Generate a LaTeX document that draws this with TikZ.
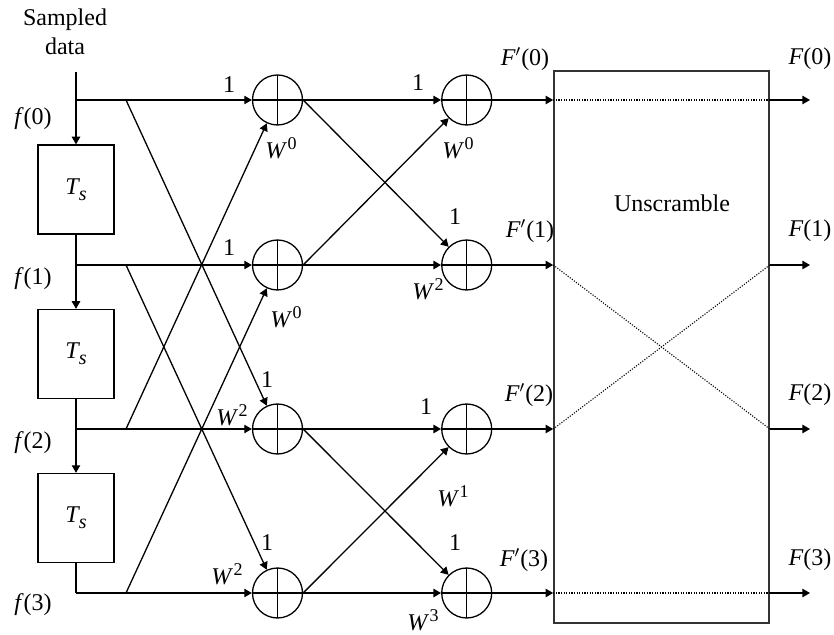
\documentclass[tikz,border=0pt]{standalone}
\usepackage{fontspec}
\setmainfont{Liberation Serif}
\usetikzlibrary{arrows.meta,calc}
\newcommand\Wsup[1]{\textit{W}\kern0.3pt\raisebox{0.85ex}{\fontsize{9}{9}\selectfont #1}}
\newcommand\Tsub{\textit{T}\kern-0.6pt\raisebox{-0.55ex}{\fontsize{10}{10}\selectfont\textit{s}}}
\newcommand\fof[1]{\textit{f}(#1)}
\newcommand\Fp[1]{\textit{F}$'$(#1)}
\newcommand\Fo[1]{\textit{F}(#1)}
\begin{document}
\begin{tikzpicture}[x=0.5pt,y=-0.5pt,
  font=\fontsize{12}{14.4}\selectfont,
  line width=0.65pt,
  arr/.style={-{Triangle[length=3.8pt,width=4.2pt]}},
  adder/.style={circle,draw,minimum size=25pt,inner sep=0pt,
    path picture={\draw (path picture bounding box.north) -- (path picture bounding box.south)
      (path picture bounding box.west) -- (path picture bounding box.east);}},
  delay/.style={draw,minimum width=38pt,minimum height=44.5pt,inner sep=0pt},
  lbl/.style={inner sep=0pt},
  perm/.style={line width=0.55pt,dash pattern=on 0.55pt off 0.75pt}]
\useasboundingbox (0,0) rectangle (834,635);

% input
\node[lbl,align=center] (sd) at (65,32) {Sampled\\data};
\coordinate (in) at (76,72);

% delay boxes
\node[delay] (t1) at (76,189.5) {\Tsub};
\node[delay] (t2) at (76,354) {\Tsub};
\node[delay] (t3) at (76,518) {\Tsub};

% junctions and branch points
\coordinate (j1) at (76,100);
\coordinate (j2) at (76,265);
\coordinate (j3) at (76,429);
\coordinate (j4) at (76,593);
\coordinate (br1) at (126,100);
\coordinate (br2) at (126,265);
\coordinate (br3) at (126,429);
\coordinate (br4) at (126,593);

% adders
\node[adder] (a1) at (277.5,100) {};
\node[adder] (a2) at (277.5,265) {};
\node[adder] (a3) at (277.5,429) {};
\node[adder] (a4) at (277.5,593) {};
\node[adder] (b1) at (466.7,100) {};
\node[adder] (b2) at (466.7,265) {};
\node[adder] (b3) at (466.7,429) {};
\node[adder] (b4) at (466.7,593) {};

% unscramble box
\node[draw=black!80,line width=0.8pt,minimum width=107.5pt,minimum height=276pt,inner sep=0pt] (u) at (661.5,347) {};
\node[lbl] (ul) at (672,203) {Unscramble};

% delay chain
\draw[arr] (in) -- (t1);
\draw[arr] (t1) -- (t2);
\draw[arr] (t2) -- (t3);
\draw (t3) -- (j4);

% first stage
\draw[arr] (j1) -- (a1);
\draw[arr] (j2) -- (a2);
\draw[arr] (j3) -- (a3);
\draw[arr] (j4) -- (a4);
\draw[arr] (br1) -- (a3);
\draw[arr] (br2) -- (a4);
\draw[arr] (br3) -- (a1);
\draw[arr] (br4) -- (a2);

% second stage
\draw[arr] (a1) -- (b1);
\draw[arr] (a2) -- (b2);
\draw[arr] (a3) -- (b3);
\draw[arr] (a4) -- (b4);
\draw[arr] (a1.east) -- (b2);
\draw[arr] (a2.east) -- (b1);
\draw[arr] (a3.east) -- (b4);
\draw[arr] (a4.east) -- (b3);

% into unscramble
\draw[arr] (b1) -- (b1 -| u.west);
\draw[arr] (b2) -- (b2 -| u.west);
\draw[arr] (b3) -- (b3 -| u.west);
\draw[arr] (b4) -- (b4 -| u.west);

% permutation
\draw[perm] (b1 -| u.west) -- (b1 -| u.east);
\draw[perm] (b2 -| u.west) -- (b3 -| u.east);
\draw[perm] (b3 -| u.west) -- (b2 -| u.east);
\draw[perm] (b4 -| u.west) -- (b4 -| u.east);

% outputs
\coordinate (o1) at (810,100);
\coordinate (o2) at (810,265);
\coordinate (o3) at (810,429);
\coordinate (o4) at (810,593);
\draw[arr] (b1 -| u.east) -- (o1);
\draw[arr] (b2 -| u.east) -- (o2);
\draw[arr] (b3 -| u.east) -- (o3);
\draw[arr] (b4 -| u.east) -- (o4);

% input labels
\node[lbl] (f0) at (33,119) {\fof{0}};
\node[lbl] (f1) at (33,279) {\fof{1}};
\node[lbl] (f2) at (33,443) {\fof{2}};
\node[lbl] (f3) at (33,605) {\fof{3}};

% first stage labels
\node[lbl] (l1a) at (229,85) {1};
\node[lbl] (w1a) at (281,148) {\Wsup{0}};
\node[lbl] (l2a) at (229,248) {1};
\node[lbl] (w2a) at (286,317) {\Wsup{0}};
\node[lbl] (l3a) at (267,380) {1};
\node[lbl] (w3a) at (232,415) {\Wsup{2}};
\node[lbl] (l4a) at (267,543) {1};
\node[lbl] (w4a) at (227,574) {\Wsup{2}};

% second stage labels
\node[lbl] (l1b) at (418,83) {1};
\node[lbl] (w1b) at (458,148) {\Wsup{0}};
\node[lbl] (l2b) at (455,217) {1};
\node[lbl] (w2b) at (428,289) {\Wsup{2}};
\node[lbl] (l3b) at (426,407) {1};
\node[lbl] (w3b) at (453,496) {\Wsup{1}};
\node[lbl] (l4b) at (455,543) {1};
\node[lbl] (w4b) at (423,620) {\Wsup{3}};

% F' labels
\node[lbl] (fp0) at (525,59) {\Fp{0}};
\node[lbl] (fp1) at (530,231) {\Fp{1}};
\node[lbl] (fp2) at (529,395) {\Fp{2}};
\node[lbl] (fp3) at (524,560) {\Fp{3}};

% F labels
\node[lbl] (fo0) at (810,59) {\Fo{0}};
\node[lbl] (fo1) at (810,231) {\Fo{1}};
\node[lbl] (fo2) at (810,395) {\Fo{2}};
\node[lbl] (fo3) at (810,560) {\Fo{3}};
\end{tikzpicture}
\end{document}
